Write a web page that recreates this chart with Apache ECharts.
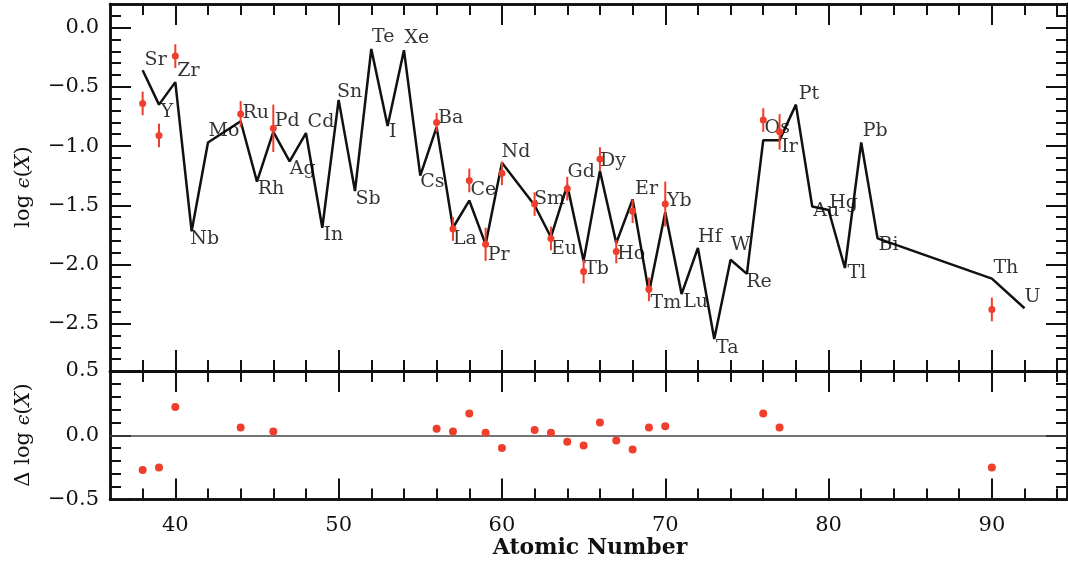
<!DOCTYPE html>
<html>
<head>
<meta charset="utf-8">
<script src="https://cdn.jsdelivr.net/npm/echarts@6/dist/echarts.min.js"></script>
<style>
  html, body { margin: 0; padding: 0; background: #fff; }
  #chart { width: 1068px; height: 563px; }
</style>
</head>
<body>
<div id="chart"></div>
<script>
// solar r-process pattern (black line)
var lineZ = [38, 39, 40, 41, 42, 44, 45, 46, 47, 48, 49, 50, 51, 52, 53, 54, 55, 56, 57, 58, 59, 60,
    62, 63, 64, 65, 66, 67, 68, 69, 70, 71, 72, 73, 74, 75, 76, 77, 78, 79, 80, 81, 82, 83, 90, 92];
var lineNames = ['Sr', 'Y', 'Zr', 'Nb', 'Mo', 'Ru', 'Rh', 'Pd', 'Ag', 'Cd', 'In', 'Sn', 'Sb', 'Te', 'I', 'Xe',
    'Cs', 'Ba', 'La', 'Ce', 'Pr', 'Nd', 'Sm', 'Eu', 'Gd', 'Tb', 'Dy', 'Ho', 'Er', 'Tm', 'Yb', 'Lu', 'Hf',
    'Ta', 'W', 'Re', 'Os', 'Ir', 'Pt', 'Au', 'Hg', 'Tl', 'Pb', 'Bi', 'Th', 'U'];
var lineLogEps = [-0.36, -0.65, -0.46, -1.72, -0.97, -0.79, -1.30, -0.88, -1.13, -0.89, -1.69, -0.61,
    -1.38, -0.18, -0.83, -0.19, -1.25, -0.84, -1.69, -1.46, -1.83, -1.14,
    -1.50, -1.77, -1.33, -1.97, -1.21, -1.82, -1.45, -2.24, -1.56, -2.25, -1.86,
    -2.63, -1.96, -2.08, -0.95, -0.95, -0.65, -1.51, -1.54, -2.03, -0.97, -1.78, -2.12, -2.37];

// observed abundances with errors (red)
var obsZ = [38, 39, 40, 44, 46, 56, 57, 58, 59, 60, 62, 63, 64, 65, 66, 67, 68, 69, 70, 76, 77, 90];
var obsLogEps = [-0.64, -0.91, -0.24, -0.73, -0.85, -0.80, -1.70, -1.29, -1.83, -1.23, -1.49, -1.78,
    -1.36, -2.06, -1.11, -1.89, -1.55, -2.21, -1.49, -0.78, -0.88, -2.38];
var obsErr = [0.10, 0.10, 0.10, 0.11, 0.20, 0.08, 0.10, 0.10, 0.14, 0.10, 0.10, 0.10,
    0.10, 0.10, 0.10, 0.10, 0.10, 0.10, 0.19, 0.10, 0.15, 0.10];

// residuals (lower panel)
var residual = [-0.27, -0.25, 0.22, 0.06, 0.03, 0.05, 0.03, 0.17, 0.02, -0.10, 0.04, 0.02,
    -0.05, -0.08, 0.10, -0.04, -0.11, 0.06, 0.07, 0.17, 0.06, -0.25];

// tick values
var xMajor = [40, 50, 60, 70, 80, 90];
var xMinor = [38, 42, 44, 46, 48, 52, 54, 56, 58, 62, 64, 66, 68, 72, 74, 76, 78, 82, 84, 86, 88, 92, 94];
var yTopMajor = [0, -0.5, -1, -1.5, -2, -2.5];
var yTopMinor = [0.1, -0.1, -0.2, -0.3, -0.4, -0.6, -0.7, -0.8, -0.9, -1.1, -1.2, -1.3, -1.4,
    -1.6, -1.7, -1.8, -1.9, -2.1, -2.2, -2.3, -2.4, -2.6, -2.7, -2.8];
var yBotMajor = [0.5, 0, -0.5];
var yBotMinor = [0.4, 0.3, 0.2, 0.1, -0.1, -0.2, -0.3, -0.4];

// label placement (pixel shift of each element name from its vertex)
var labelShift = {
    Sr: [13, -10], Y: [8, 7], Zr: [13, -11], Nb: [13, 8], Mo: [16, -11], Ru: [15, -8], Rh: [14, 7],
    Pd: [14, -11], Ag: [13, 8], Cd: [15, -11], In: [11, 7], Sn: [11, -8], Sb: [13, 8], Te: [12, -12],
    I: [5, 6], Xe: [13, -12], Cs: [12, 6], Ba: [14, -9], La: [12, 11], Ce: [14, -10], Pr: [13, 11],
    Nd: [14, -11], Sm: [15, -6], Eu: [13, 12], Gd: [14, -13], Tb: [13, 8], Dy: [13, -10], Ho: [15, 11],
    Er: [14, -10], Tm: [17, 10], Yb: [14, -11], Lu: [14, 8], Hf: [12, -11], Ta: [13, 9], W: [10, -15],
    Re: [12, 8], Os: [14, -12], Ir: [10, 7], Pt: [13, -11], Au: [14, 5], Hg: [15, -7], Tl: [12, 5],
    Pb: [14, -11], Bi: [11, 7], Th: [14, -11], U: [8, -11]
};

var INK = '#111';
var RED = '#ef3e2c';
var FONT = '"DejaVu Serif", "Liberation Serif", serif';
var X_MIN = 36, X_MAX = 94.6;

function fmt(v) {
    return (Math.abs(v) < 1e-9 ? 0 : v).toFixed(1).replace('-', '\u2212');
}

function axis(gridIndex, position, min, max, ticks, len, withLabels) {
    return {
        type: 'value',
        gridIndex: gridIndex,
        position: position,
        min: min,
        max: max,
        axisLine: { show: true, onZero: false, lineStyle: { color: INK, width: 2.5 } },
        axisTick: { show: true, inside: true, length: len, customValues: ticks, lineStyle: { color: INK, width: 2 } },
        axisLabel: withLabels ? {
            show: true, customValues: ticks, formatter: withLabels, margin: withLabels === fmt ? 11 : 16,
            color: INK, fontFamily: FONT, fontSize: 21
        } : { show: false },
        splitLine: { show: false }
    };
}

var xAxes = [];
var yAxes = [];
[0, 1].forEach(function (g) {
    xAxes.push(axis(g, 'bottom', X_MIN, X_MAX, xMajor, 21, g === 1 ? function (v) { return String(v); } : null));
    xAxes.push(axis(g, 'bottom', X_MIN, X_MAX, xMinor, 11, null));
    xAxes.push(axis(g, 'top', X_MIN, X_MAX, xMajor, 21, null));
    xAxes.push(axis(g, 'top', X_MIN, X_MAX, xMinor, 11, null));
});
yAxes.push(axis(0, 'left', -2.9, 0.2, yTopMajor, 21, fmt));
yAxes.push(axis(0, 'left', -2.9, 0.2, yTopMinor, 11, null));
yAxes.push(axis(0, 'right', -2.9, 0.2, yTopMajor, 21, null));
yAxes.push(axis(0, 'right', -2.9, 0.2, yTopMinor, 11, null));
yAxes.push(axis(1, 'left', -0.5, 0.5, yBotMajor, 21, fmt));
yAxes.push(axis(1, 'left', -0.5, 0.5, yBotMinor, 11, null));
yAxes.push(axis(1, 'right', -0.5, 0.5, yBotMajor, 21, null));
yAxes.push(axis(1, 'right', -0.5, 0.5, yBotMinor, 11, null));

var lineData = lineZ.map(function (z, i) { return [z, lineLogEps[i]]; });
var labelData = lineZ.map(function (z, i) {
    return {
        value: [z, lineLogEps[i]],
        label: { offset: labelShift[lineNames[i]], formatter: lineNames[i] }
    };
});
var obsData = obsZ.map(function (z, i) { return [z, obsLogEps[i]]; });
var errData = obsZ.map(function (z, i) { return [z, obsLogEps[i], obsErr[i]]; });
var resData = obsZ.map(function (z, i) { return [z, residual[i]]; });

var chart = echarts.init(document.getElementById('chart'));

var titleRich = {
    n: { fontFamily: FONT, fontSize: 21, fill: INK },
    e: { fontFamily: FONT, fontSize: 19, fill: INK, fontStyle: 'italic' },
    i: { fontFamily: FONT, fontSize: 21, fill: INK, fontStyle: 'italic' }
};

var option = {
    backgroundColor: '#fff',
    animation: false,
    grid: [
        { left: 110, top: 4, width: 957, height: 367 },
        { left: 110, top: 371, width: 957, height: 128.5 }
    ],
    xAxis: xAxes,
    yAxis: yAxes,
    graphic: [
        {
            type: 'text', x: 24, y: 187, rotation: Math.PI / 2,
            style: {
                text: '{n|log }{e|\u03f5}{n|(}{i|X}{n|)}', align: 'center', verticalAlign: 'middle',
                rich: titleRich
            }
        },
        {
            type: 'text', x: 24, y: 435, rotation: Math.PI / 2,
            style: {
                text: '{n|\u0394 log }{e|\u03f5}{n|(}{i|X}{n|)}', align: 'center', verticalAlign: 'middle',
                rich: titleRich
            }
        },
        {
            type: 'text', x: 590, y: 548,
            style: {
                text: 'Atomic Number', align: 'center', verticalAlign: 'middle',
                fontFamily: FONT, fontSize: 22, fontWeight: 'bold', fill: INK
            }
        }
    ],
    series: [
        {
            type: 'line',
            xAxisIndex: 0, yAxisIndex: 0,
            data: lineData,
            showSymbol: false,
            symbol: 'none',
            lineStyle: { color: INK, width: 2.5 },
            z: 3
        },
        {
            type: 'scatter',
            xAxisIndex: 0, yAxisIndex: 0,
            data: labelData,
            symbolSize: 1,
            itemStyle: { color: 'rgba(0,0,0,0)' },
            label: {
                show: true, position: 'inside', align: 'center', verticalAlign: 'middle',
                color: '#000', fontFamily: FONT, fontSize: 19, textBorderWidth: 0
            },
            z: 4
        },
        {
            type: 'custom',
            xAxisIndex: 0, yAxisIndex: 0,
            data: errData,
            encode: { x: 0, y: 1 },
            renderItem: function (params, api) {
                var x = api.value(0);
                var lo = api.coord([x, api.value(1) - api.value(2)]);
                var hi = api.coord([x, api.value(1) + api.value(2)]);
                return {
                    type: 'line',
                    shape: { x1: lo[0], y1: lo[1], x2: hi[0], y2: hi[1] },
                    style: { stroke: RED, lineWidth: 2 }
                };
            },
            z: 5
        },
        {
            type: 'scatter',
            xAxisIndex: 0, yAxisIndex: 0,
            data: obsData,
            symbolSize: 7,
            itemStyle: { color: RED, opacity: 1 },
            z: 6
        },
        {
            type: 'scatter',
            xAxisIndex: 4, yAxisIndex: 4,
            data: resData,
            symbolSize: 8,
            itemStyle: { color: RED, opacity: 1 },
            markLine: {
                silent: true,
                symbol: 'none',
                label: { show: false },
                lineStyle: { color: '#444', width: 1.5, type: 'solid' },
                data: [{ yAxis: 0 }]
            },
            z: 6
        }
    ]
};

chart.setOption(option);
</script>
</body>
</html>
